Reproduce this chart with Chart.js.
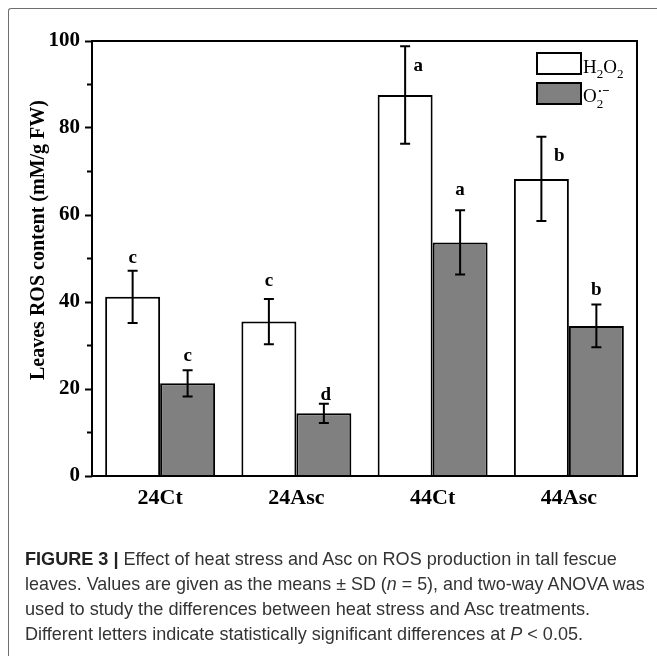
<!DOCTYPE html>
<html>
<head>
<meta charset="utf-8">
<script src="https://cdn.jsdelivr.net/npm/chart.js@4.4.1/dist/chart.umd.min.js"></script>
<style>
  html, body { margin: 0; padding: 0; background: #fff; }
  #wrap { position: relative; width: 657px; height: 656px; overflow: hidden; }
  #frame { position: absolute; left: 8px; top: 8px; width: 700px; height: 700px;
           border-top: 1.5px solid #6e6e6e; border-left: 1.5px solid #6e6e6e; border-top-left-radius: 3px; }
  #c { position: absolute; left: 0; top: 0; }
  .cap { position: absolute; left: 25px; white-space: nowrap; font-family: "Liberation Sans", Arial, sans-serif;
         font-size: 19px; line-height: 19px; color: #333; transform-origin: 0 0; }
  .cap b { font-weight: bold; color: #222; }
</style>
</head>
<body>
<div id="wrap">
  <div id="frame"></div>
  <canvas id="c" width="657" height="656"></canvas>
  <div class="cap" id="l1" style="top:549px"><b>FIGURE 3 |</b> Effect of heat stress and Asc on ROS production in tall fescue</div>
  <div class="cap" id="l2" style="top:574px">leaves. Values are given as the means ± SD (<i>n</i> = 5), and two-way ANOVA was</div>
  <div class="cap" id="l3" style="top:599px">used to study the differences between heat stress and Asc treatments.</div>
  <div class="cap" id="l4" style="top:624px">Different letters indicate statistically significant differences at <i>P</i> &lt; 0.05.</div>
</div>
<script>
// ---- data ----
const categories = ['24Ct', '24Asc', '44Ct', '44Asc'];
const h2o2Values = [41.2, 35.5, 87.6, 68.3];
const h2o2SD     = [6.0, 5.2, 11.2, 9.7];
const o2Values   = [21.3, 14.4, 53.7, 34.5];
const o2SD       = [3.0, 2.2, 7.4, 4.9];
const h2o2Letters = ['c', 'c', 'a', 'b'];
const o2Letters   = ['c', 'd', 'a', 'b'];
const yMin = 0, yMax = 100, yStep = 10, yLabelStep = 20;
const yTitle = 'Leaves ROS content (mM/g FW)';

// ---- styles (pixel offsets for letter placement relative to error-bar top) ----
const letterOffsets = [
  [{dx: 0, dy: -8}, {dx: 0, dy: -13}, {dx: 13, dy: 25}, {dx: 18, dy: 24}],
  [{dx: 0, dy: -9.5}, {dx: 2, dy: -4}, {dx: 0, dy: -15.5}, {dx: 0, dy: -9.5}]
];
const SERIF = '"Liberation Serif", "Times New Roman", serif';

const sds = [h2o2SD, o2SD];
const letters = [h2o2Letters, o2Letters];

const framePlugin = {
  id: 'frame',
  afterDatasetsDraw(chart) {
    const {ctx, chartArea: a, scales} = chart;
    ctx.save();
    ctx.strokeStyle = '#000';
    ctx.lineWidth = 2;
    ctx.strokeRect(a.left, a.top, a.right - a.left, a.bottom - a.top);
    const y = scales.y;
    // minor ticks (shorter)
    ctx.beginPath();
    y.ticks.forEach(t => {
      if (t.value % yLabelStep !== 0) {
        const py = y.getPixelForValue(t.value);
        ctx.moveTo(a.left - 5, py); ctx.lineTo(a.left, py);
      }
    });
    ctx.stroke();
    // error bars
    chart.data.datasets.forEach((ds, di) => {
      const meta = chart.getDatasetMeta(di);
      meta.data.forEach((bar, i) => {
        const v = ds.data[i], sd = sds[di][i];
        const yt = y.getPixelForValue(v + sd), yb = y.getPixelForValue(v - sd);
        const x = bar.x;
        ctx.beginPath();
        ctx.moveTo(x, yt); ctx.lineTo(x, yb);
        ctx.moveTo(x - 5, yt); ctx.lineTo(x + 5, yt);
        ctx.moveTo(x - 5, yb); ctx.lineTo(x + 5, yb);
        ctx.stroke();
        // significance letters
        const off = letterOffsets[di][i];
        ctx.fillStyle = '#000';
        ctx.font = 'bold 19px ' + SERIF;
        ctx.textAlign = 'center';
        ctx.textBaseline = 'alphabetic';
        ctx.fillText(letters[di][i], x + off.dx, yt + off.dy);
      });
    });
    // y title
    ctx.save();
    ctx.translate(39, 240);
    ctx.rotate(-Math.PI / 2);
    ctx.font = 'bold 20px ' + SERIF;
    ctx.textAlign = 'center';
    ctx.textBaseline = 'middle';
    ctx.fillText(yTitle, 0, 0);
    ctx.restore();
    // legend
    const lx = a.right - 100, ly = a.top + 12;
    chart.data.datasets.forEach((ds, di) => {
      const by = ly + di * 30;
      ctx.fillStyle = ds.backgroundColor;
      ctx.fillRect(lx, by, 44, 21);
      ctx.strokeStyle = '#000';
      ctx.lineWidth = 2;
      ctx.strokeRect(lx, by, 44, 21);
    });
    ctx.fillStyle = '#000';
    ctx.textAlign = 'left';
    ctx.textBaseline = 'alphabetic';
    const tx = lx + 46;
    let bx = tx, base = ly + 20;
    ctx.font = '19px ' + SERIF;
    ctx.fillText('H', bx, base); bx += ctx.measureText('H').width;
    ctx.font = '13px ' + SERIF;
    ctx.fillText('2', bx, base + 5); bx += ctx.measureText('2').width;
    ctx.font = '19px ' + SERIF;
    ctx.fillText('O', bx, base); bx += ctx.measureText('O').width;
    ctx.font = '13px ' + SERIF;
    ctx.fillText('2', bx, base + 5);
    bx = tx; base = ly + 49;
    ctx.font = '19px ' + SERIF;
    ctx.fillText('O', bx, base); bx += ctx.measureText('O').width;
    ctx.font = '13px ' + SERIF;
    ctx.fillText('2', bx, base + 6);
    ctx.font = 'bold 13px ' + SERIF;
    ctx.fillText('·−', bx + 1, base - 7);
    ctx.restore();
  }
};

new Chart(document.getElementById('c'), {
  type: 'bar',
  data: {
    labels: categories,
    datasets: [
      { label: 'H2O2', data: h2o2Values, backgroundColor: '#ffffff', borderColor: '#000', borderWidth: 2,
        categoryPercentage: 0.807, barPercentage: 1.0 },
      { label: 'O2·−', data: o2Values, backgroundColor: '#808080', borderColor: '#000', borderWidth: 2,
        categoryPercentage: 0.807, barPercentage: 1.0 }
    ]
  },
  options: {
    responsive: false,
    animation: false,
    events: [],
    layout: { padding: { left: 0, top: 41, right: 20, bottom: 140 } },
    plugins: { legend: { display: false }, tooltip: { enabled: false }, title: { display: false } },
    scales: {
      x: {
        grid: { display: false, drawTicks: false },
        border: { display: false },
        ticks: { color: '#000', font: { family: SERIF, size: 22, weight: 'bold' }, padding: 9 },
        afterFit(s) { s.height = 40; }
      },
      y: {
        min: yMin, max: yMax,
        grid: { drawOnChartArea: false, drawTicks: true, tickLength: 7, tickWidth: 2,
                tickColor: c => (c.tick && c.tick.value % yLabelStep === 0 ? '#000' : 'rgba(0,0,0,0)') },
        border: { display: false },
        ticks: { stepSize: yStep, color: '#000', padding: 5,
                 font: { family: SERIF, size: 21, weight: 'bold' },
                 callback: v => (v % yLabelStep === 0 ? v : '') },
        afterFit(s) { s.width = 92; }
      }
    }
  },
  plugins: [framePlugin]
});

// fit caption line widths
const targets = { l1: 592, l2: 620, l3: 565, l4: 558 };
Object.keys(targets).forEach(id => {
  const el = document.getElementById(id);
  const w = el.scrollWidth;
  el.style.transform = 'scaleX(' + (targets[id] / w) + ')';
});
</script>
</body>
</html>
